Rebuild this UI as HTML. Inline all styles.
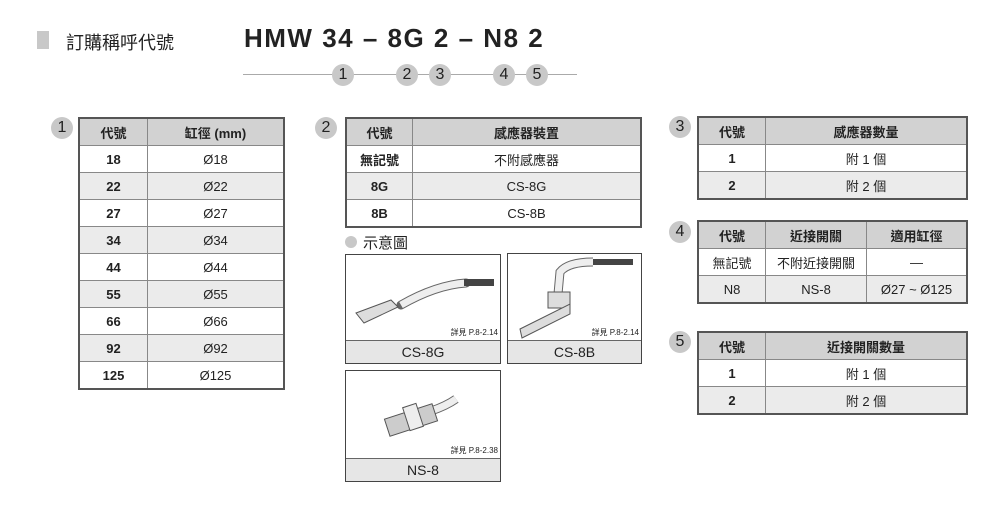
<!DOCTYPE html>
<html><head><meta charset="utf-8"><style>
body{margin:0;width:1000px;height:520px;background:#fff;position:relative;overflow:hidden;font-family:"Liberation Sans","Noto Sans CJK TC",sans-serif;color:#222}
.a{position:absolute}
table{position:absolute;border-collapse:collapse;border:2px solid #555;font-size:13px;text-align:center}
td{border:1px solid #888;padding:0;height:26px}
tr.h td{background:#d2d2d2;font-weight:bold;height:26px}
tr.g td{background:#ebebeb}
td.c{font-weight:bold}
.n{position:absolute;width:22px;height:22px;border-radius:50%;background:#c8c8c8;font-size:16px;text-align:center;line-height:22px;color:#222}
.box{position:absolute;border:1.5px solid #444;background:#fff}
.band{position:absolute;left:0;right:0;bottom:0;height:22px;background:#e6e6e6;border-top:1px solid #666;text-align:center;font-size:14px;line-height:22px}
.ref{position:absolute;right:2px;bottom:25px;font-size:8px}
</style></head><body>
<div class="a" style="left:37px;top:31px;width:12px;height:18px;background:#c8c8c8"></div>
<div class="a" style="left:66px;top:29px;font-size:18px">訂購稱呼代號</div>
<div class="a" style="left:244px;top:23px;font-size:26px;font-weight:bold;letter-spacing:1.5px;color:#222">HMW 34 – 8G 2 – N8 2</div>
<div class="a" style="left:243px;top:74px;width:334px;height:1px;background:#aaa"></div>
<div class="n" style="left:332px;top:64px">1</div>
<div class="n" style="left:396px;top:64px">2</div>
<div class="n" style="left:429px;top:64px">3</div>
<div class="n" style="left:493px;top:64px">4</div>
<div class="n" style="left:526px;top:64px">5</div>

<div class="n" style="left:51px;top:117px">1</div>
<table style="left:78px;top:117px;width:207px">
<tr class="h"><td style="width:67px">代號</td><td>缸徑 (mm)</td></tr>
<tr><td class="c">18</td><td>Ø18</td></tr>
<tr class="g"><td class="c">22</td><td>Ø22</td></tr>
<tr><td class="c">27</td><td>Ø27</td></tr>
<tr class="g"><td class="c">34</td><td>Ø34</td></tr>
<tr><td class="c">44</td><td>Ø44</td></tr>
<tr class="g"><td class="c">55</td><td>Ø55</td></tr>
<tr><td class="c">66</td><td>Ø66</td></tr>
<tr class="g"><td class="c">92</td><td>Ø92</td></tr>
<tr><td class="c">125</td><td>Ø125</td></tr>
</table>

<div class="n" style="left:315px;top:117px">2</div>
<table style="left:345px;top:117px;width:297px">
<tr class="h"><td style="width:65px">代號</td><td>感應器裝置</td></tr>
<tr><td class="c">無記號</td><td>不附感應器</td></tr>
<tr class="g"><td class="c">8G</td><td>CS-8G</td></tr>
<tr><td class="c">8B</td><td>CS-8B</td></tr>
</table>
<div class="a" style="left:345px;top:236px;width:12px;height:12px;border-radius:50%;background:#c8c8c8"></div>
<div class="a" style="left:363px;top:232px;font-size:15px">示意圖</div>

<div class="box" style="left:345px;top:254px;width:154px;height:108px">
<svg width="154" height="86" class="a" style="left:0;top:0"><path d="M55 50 Q90 30 120 28" stroke="#666" stroke-width="9" fill="none" stroke-linecap="round"/><path d="M55 50 Q90 30 120 28" stroke="#eee" stroke-width="7" fill="none"/><rect x="118" y="24" width="30" height="7" fill="#444"/><path d="M10 58 L45 45 L52 52 L18 68 Z" fill="#ddd" stroke="#555"/></svg>
<div class="ref">詳見 P.8-2.14</div><div class="band">CS-8G</div></div>
<div class="box" style="left:507px;top:253px;width:133px;height:109px">
<svg width="133" height="86" class="a" style="left:0;top:0"><path d="M50 40 L52 18 Q60 8 85 8" stroke="#666" stroke-width="9" fill="none"/><path d="M50 40 L52 18 Q60 8 85 8" stroke="#eee" stroke-width="7" fill="none"/><rect x="85" y="5" width="40" height="6" fill="#444"/><rect x="40" y="38" width="22" height="16" fill="#ddd" stroke="#555"/><path d="M12 75 L62 50 L62 60 L14 84 Z" fill="#ddd" stroke="#555"/></svg>
<div class="ref">詳見 P.8-2.14</div><div class="band">CS-8B</div></div>
<div class="box" style="left:345px;top:370px;width:154px;height:110px">
<svg width="154" height="86" class="a" style="left:0;top:0"><path d="M85 40 Q100 35 110 28" stroke="#666" stroke-width="9" fill="none"/><path d="M85 40 Q100 35 110 28" stroke="#eee" stroke-width="7" fill="none"/><rect x="40" y="40" width="50" height="18" transform="rotate(-18 65 49)" fill="#ccc" stroke="#555"/><rect x="60" y="34" width="14" height="24" transform="rotate(-18 67 46)" fill="#eee" stroke="#555"/></svg>
<div class="ref">詳見 P.8-2.38</div><div class="band">NS-8</div></div>

<div class="n" style="left:669px;top:116px">3</div>
<table style="left:697px;top:116px;width:271px">
<tr class="h"><td style="width:66px">代號</td><td>感應器數量</td></tr>
<tr><td class="c">1</td><td>附 1 個</td></tr>
<tr class="g"><td class="c">2</td><td>附 2 個</td></tr>
</table>

<div class="n" style="left:669px;top:221px">4</div>
<table style="left:697px;top:220px;width:271px">
<tr class="h"><td style="width:66px">代號</td><td style="width:100px">近接開關</td><td>適用缸徑</td></tr>
<tr><td>無記號</td><td>不附近接開關</td><td>—</td></tr>
<tr class="g"><td>N8</td><td>NS-8</td><td>Ø27 ~ Ø125</td></tr>
</table>

<div class="n" style="left:669px;top:331px">5</div>
<table style="left:697px;top:331px;width:271px">
<tr class="h"><td style="width:66px">代號</td><td>近接開關數量</td></tr>
<tr><td class="c">1</td><td>附 1 個</td></tr>
<tr class="g"><td class="c">2</td><td>附 2 個</td></tr>
</table>
</body></html>
